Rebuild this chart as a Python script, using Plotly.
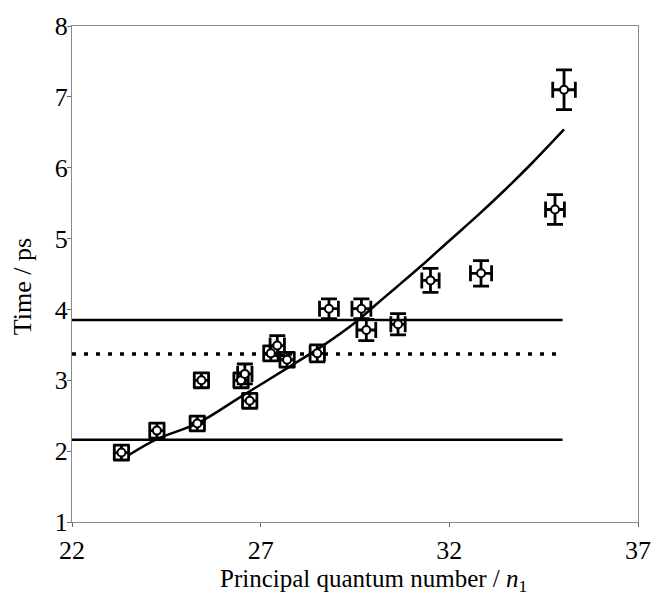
import plotly.graph_objects as go

# Data points (n1, time / ps) with error bars
x_data = [23.31, 24.25, 25.32, 25.43, 26.48, 26.58, 26.71, 27.27, 27.44, 27.70,
          28.50, 28.81, 29.67, 29.80, 30.64, 31.50, 32.84, 34.80, 35.04]
y_data = [1.98, 2.29, 2.39, 3.00, 3.00, 3.09, 2.71, 3.38, 3.49, 3.29,
          3.38, 4.01, 4.01, 3.71, 3.79, 4.41, 4.51, 5.41, 7.10]
y_err = [0.105, 0.105, 0.105, 0.105, 0.105, 0.14, 0.105, 0.105, 0.14, 0.105,
         0.12, 0.14, 0.14, 0.15, 0.15, 0.17, 0.18, 0.21, 0.28]
x_err = [0.19, 0.19, 0.19, 0.19, 0.19, 0.19, 0.19, 0.19, 0.19, 0.19,
         0.19, 0.25, 0.25, 0.25, 0.19, 0.23, 0.28, 0.25, 0.30]

# Model curve
curve_x = [23.52, 24.25, 25.35, 26.48, 27.79, 28.68, 29.54, 30.06, 30.59,
           31.29, 32.00, 32.76, 33.40, 34.20, 35.04]
curve_y = [1.95, 2.17, 2.40, 2.77, 3.20, 3.50, 3.83, 4.07, 4.31,
           4.63, 4.97, 5.33, 5.65, 6.07, 6.54]

# Horizontal reference lines
hline_y = [3.85, 3.37, 2.16]
hline_dash = ["solid", "4px,8px", "solid"]
hline_x = [22, 35.0]

x_ticks = [22, 27, 32, 37]
y_ticks = [1, 2, 3, 4, 5, 6, 7, 8]

FONT = "Liberation Serif"

fig = go.Figure()

for yv, dash in zip(hline_y, hline_dash):
    fig.add_trace(go.Scatter(
        x=hline_x, y=[yv, yv], mode="lines",
        line=dict(color="black", width=2.5 if dash == "solid" else 3.5, dash=dash),
        showlegend=False, hoverinfo="skip"))

fig.add_trace(go.Scatter(
    x=curve_x, y=curve_y, mode="lines",
    line=dict(color="black", width=2.5, shape="spline", smoothing=1.0),
    showlegend=False))

fig.add_trace(go.Scatter(
    x=x_data, y=y_data, mode="markers",
    marker=dict(symbol="circle", size=8, color="white",
                line=dict(color="black", width=2)),
    error_y=dict(type="data", array=y_err, color="black", thickness=2.8, width=8),
    error_x=dict(type="data", array=x_err, color="black", thickness=2.8, width=8),
    showlegend=False))

axis_common = dict(
    showgrid=False, zeroline=False, showline=True, linecolor="#8a8a8a",
    linewidth=1, mirror=True, ticks="outside", ticklen=4, tickwidth=1,
    tickcolor="#666", tickfont=dict(family=FONT, size=26, color="black"))

fig.update_xaxes(range=[22, 37], tickvals=x_ticks, ticktext=[str(t) for t in x_ticks],
                 ticklabelstandoff=1, **axis_common)
fig.update_yaxes(range=[1, 8], tickvals=y_ticks, ticktext=[str(t) for t in y_ticks],
                 ticklabelstandoff=-6, **axis_common)

fig.add_annotation(text="Time / ps", xref="paper", yref="paper",
                   x=-0.087, y=0.475, textangle=-90, showarrow=False,
                   xanchor="center", yanchor="middle",
                   font=dict(family=FONT, size=26, color="black"))
fig.add_annotation(text="Principal quantum number / <i>n</i><sub>1</sub>",
                   xref="paper", yref="paper", x=0.533, y=-0.153,
                   showarrow=False, xanchor="center", yanchor="bottom",
                   font=dict(family=FONT, size=25, color="black"))

fig.update_layout(
    width=663, height=599,
    margin=dict(l=72, r=17, t=17, b=77),
    plot_bgcolor="white", paper_bgcolor="white",
    showlegend=False)

fig.write_html("out.html")
